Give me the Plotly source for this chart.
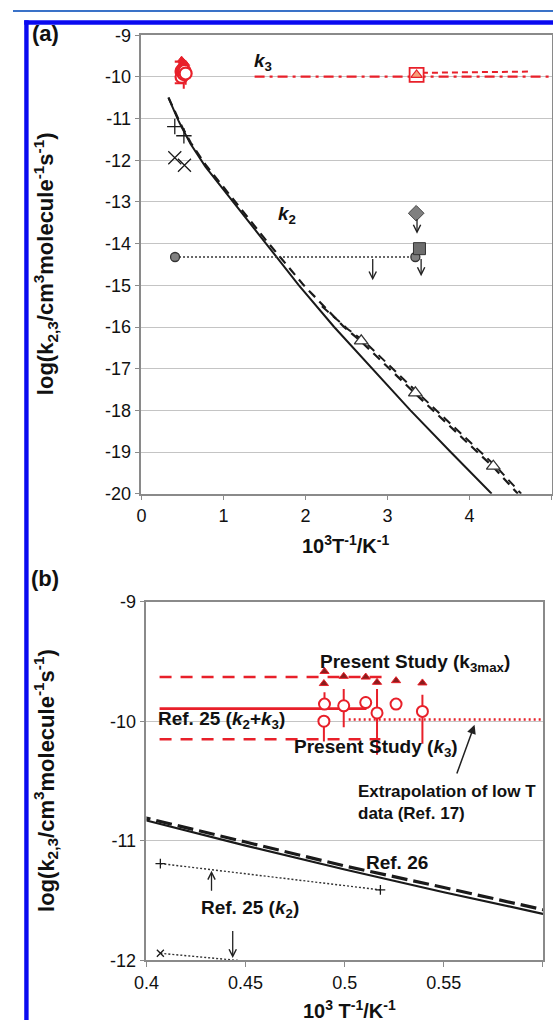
import plotly.graph_objects as go

W, H = 553, 1030
RED = "#e8202a"
BLACK = "#1a1a1a"
AXC = "#8a8a8a"
GRID = "#c4c4c4"
FONT = "Liberation Sans, Arial, sans-serif"

# ---------------- data ----------------
# k2 (Ref. 26) curves
k2_solid_x = [0.33, 0.4, 0.45, 0.5, 0.55, 0.6, 0.78, 1.14, 1.52, 1.92, 2.35, 2.82, 3.28, 3.77, 4.27]
k2_solid_y = [-10.5, -10.83, -11.04, -11.24, -11.43, -11.61, -12.15, -13.05, -14.0, -15.0, -16.0, -17.0, -18.0, -19.0, -20.0]
k2_dash_x = [0.33, 0.4, 0.45, 0.5, 0.55, 0.6, 0.78, 1.14, 1.52, 1.98, 2.47, 2.68, 3.34, 4.29, 4.41, 4.59]
k2_dash_y = [-10.49, -10.81, -11.01, -11.21, -11.39, -11.575, -12.1, -12.98, -13.92, -15.0, -16.0, -16.35, -17.6, -19.36, -19.61, -20.0]
k2_dash2_x = [2.2, 2.51, 2.72, 3.38, 4.33, 4.45, 4.63]
k2_dash2_y = [-15.5, -16.04, -16.35, -17.6, -19.36, -19.61, -20.0]
# low-T k2 measurements (open triangles)
k2_lowT_x = [2.68, 3.34, 4.29]
k2_lowT_y = [-16.33, -17.58, -19.34]
# Ref. 25 (k2)
ref25_plus_x = [0.407, 0.518]
ref25_plus_y = [-11.19, -11.41]
ref25_cross_x = [0.407, 0.525]
ref25_cross_y = [-11.94, -12.12]
# upper limits (grey symbols)
ul_circle_x = [0.41, 3.34]
ul_circle_y = [-14.32, -14.32]
ul_diamond_x = [3.35]
ul_diamond_y = [-13.27]
ul_square_x = [3.39]
ul_square_y = [-14.12]
# k3 low-T (panel a)
k3_lowT_x = [1.38, 5.0]
k3_lowT_y = [-9.99, -9.99]
k3_lowT2_x = [3.42, 4.75]
k3_lowT2_y = [-9.9, -9.87]
k3_sq_x = [3.355]
k3_sq_y = [-9.95]
# Present study k3 and k3max
ps_k3_x = [0.4898, 0.4895, 0.4995, 0.5106, 0.5163, 0.5259, 0.5392]
ps_k3_y = [-9.857, -10.0, -9.871, -9.844, -9.931, -9.857, -9.918]
ps_k3_up = [0.1, 0.0, 0.14, 0.05, 0.2, 0.05, 0.14]
ps_k3_dn = [0.0, 0.17, 0.18, 0.05, 0.35, 0.05, 0.27]
ps_k3max_x = [0.4898, 0.4895, 0.4995, 0.5106, 0.5163, 0.5259, 0.5392]
ps_k3max_y = [-9.584, -9.685, -9.625, -9.631, -9.675, -9.661, -9.68]
# Ref. 25 (k2+k3)
ref25_sum_x = [0.4066, 0.511]
ref25_sum_y = [-9.894, -9.894]
ref25_hi_x = [0.4066, 0.519]
ref25_hi_y = [-9.631, -9.631]
ref25_lo_x = [0.4066, 0.518]
ref25_lo_y = [-10.15, -10.15]
# Extrapolation of low T data (Ref. 17)
extrap_x = [0.502, 0.6]
extrap_y = [-9.986, -9.986]

# tick labels
ya_vals = [-9, -10, -11, -12, -13, -14, -15, -16, -17, -18, -19, -20]
ya_text = ["-9", "-10", "-11", "-12", "-13", "-14", "-15", "-16", "-17", "-18", "-19", "-20"]
xa_vals = [0, 1, 2, 3, 4, 5]
xa_text = ["0", "1", "2", "3", "4", "5"]
yb_vals = [-9, -10, -11, -12]
yb_text = ["-9", "-10", "-11", "-12"]
xb_vals = [0.4, 0.45, 0.5, 0.55, 0.6]
xb_text = ["0.4", "0.45", "0.5", "0.55", "0.6"]


def px(x):
    return min(1.0, max(0.0, x / W))


def py(y):
    return min(1.0, max(0.0, 1 - y / H))


fig = go.Figure()

# ================= panel (a) =================
A = dict(xaxis="x", yaxis="y", showlegend=False, hoverinfo="skip")
fig.add_trace(go.Scatter(x=k2_solid_x, y=k2_solid_y, mode="lines",
                         line=dict(color=BLACK, width=2), **A))
fig.add_trace(go.Scatter(x=k2_dash_x, y=k2_dash_y, mode="lines",
                         line=dict(color=BLACK, width=2.2, dash="9px,6px"), **A))
fig.add_trace(go.Scatter(x=k2_dash2_x, y=k2_dash2_y, mode="lines",
                         line=dict(color=BLACK, width=2, dash="9px,6px"), **A))
fig.add_trace(go.Scatter(x=k2_lowT_x, y=k2_lowT_y, mode="markers",
                         marker=dict(symbol="triangle-up", size=12, color="white",
                                     line=dict(color="#333", width=1.3)), **A))
fig.add_trace(go.Scatter(x=ref25_plus_x, y=ref25_plus_y, mode="markers",
                         marker=dict(symbol="cross-thin", size=11,
                                     line=dict(color=BLACK, width=1.3)), **A))
fig.add_trace(go.Scatter(x=ref25_cross_x, y=ref25_cross_y, mode="markers",
                         marker=dict(symbol="x-thin", size=13,
                                     line=dict(color=BLACK, width=1.3)), **A))
fig.add_trace(go.Scatter(x=ul_circle_x, y=ul_circle_y, mode="lines+markers",
                         line=dict(color="#333", width=1.5, dash="2px,2px"),
                         marker=dict(symbol="circle", size=9, color="#808080",
                                     line=dict(color="#333", width=1.3)), **A))
fig.add_trace(go.Scatter(x=ul_diamond_x, y=ul_diamond_y, mode="markers",
                         marker=dict(symbol="diamond", size=12, color="#808080",
                                     line=dict(color="#444", width=1)), **A))
fig.add_trace(go.Scatter(x=ul_square_x, y=ul_square_y, mode="markers",
                         marker=dict(symbol="square", size=12, color="#6e6e6e",
                                     line=dict(color="#333", width=1)), **A))
fig.add_trace(go.Scatter(x=k3_lowT_x, y=k3_lowT_y, mode="lines",
                         line=dict(color=RED, width=2.2, dash="10px,5px,3px,5px"), **A))
fig.add_trace(go.Scatter(x=k3_lowT2_x, y=k3_lowT2_y, mode="lines",
                         line=dict(color=RED, width=2, dash="6px,4px"), **A))
fig.add_trace(go.Scatter(x=k3_sq_x, y=k3_sq_y, mode="markers",
                         marker=dict(symbol="square", size=14, color="white",
                                     line=dict(color=RED, width=1.8)), **A))
fig.add_trace(go.Scatter(x=k3_sq_x, y=k3_sq_y, mode="markers",
                         marker=dict(symbol="triangle-up", size=10, color="#f6a17a",
                                     line=dict(color=RED, width=1.2)), **A))
for xs, ys in [(ref25_sum_x, ref25_sum_y), (ref25_hi_x, ref25_hi_y), (ref25_lo_x, ref25_lo_y)]:
    fig.add_trace(go.Scatter(x=xs, y=ys, mode="lines",
                             line=dict(color=RED, width=2.2), **A))
fig.add_trace(go.Scatter(x=ps_k3max_x, y=ps_k3max_y, mode="markers",
                         marker=dict(symbol="triangle-up", size=7, color=RED,
                                     line=dict(color=RED, width=1)), **A))
fig.add_trace(go.Scatter(x=ps_k3_x, y=ps_k3_y, mode="markers",
                         error_y=dict(type="data", symmetric=False, array=ps_k3_up,
                                      arrayminus=ps_k3_dn, color=RED, thickness=2, width=0),
                         marker=dict(symbol="circle", size=12, color="white",
                                     line=dict(color=RED, width=2.2)), **A))

# ================= panel (b) =================
B = dict(xaxis="x2", yaxis="y2", showlegend=False, hoverinfo="skip")
fig.add_trace(go.Scatter(x=ref25_hi_x, y=ref25_hi_y, mode="lines",
                         line=dict(color=RED, width=2.5, dash="12px,9px"), **B))
fig.add_trace(go.Scatter(x=ref25_lo_x, y=ref25_lo_y, mode="lines",
                         line=dict(color=RED, width=2.5, dash="12px,9px"), **B))
fig.add_trace(go.Scatter(x=ref25_sum_x, y=ref25_sum_y, mode="lines",
                         line=dict(color=RED, width=2.8), **B))
fig.add_trace(go.Scatter(x=extrap_x, y=extrap_y, mode="lines",
                         line=dict(color=RED, width=2.5, dash="2px,3px"), **B))
fig.add_trace(go.Scatter(x=k2_solid_x, y=k2_solid_y, mode="lines",
                         line=dict(color=BLACK, width=2.2), **B))
fig.add_trace(go.Scatter(x=k2_dash_x, y=k2_dash_y, mode="lines",
                         line=dict(color=BLACK, width=3.2, dash="16px,6px"), **B))
fig.add_trace(go.Scatter(x=ref25_plus_x, y=ref25_plus_y, mode="lines+markers",
                         line=dict(color="#333", width=1.4, dash="2px,2px"),
                         marker=dict(symbol="cross-thin", size=7,
                                     line=dict(color=BLACK, width=1.3)), **B))
fig.add_trace(go.Scatter(x=ref25_cross_x, y=ref25_cross_y, mode="lines+markers",
                         line=dict(color="#333", width=1.4, dash="2px,2px"),
                         marker=dict(symbol="x-thin", size=7,
                                     line=dict(color=BLACK, width=1.3)), **B))
fig.add_trace(go.Scatter(x=ps_k3_x, y=ps_k3_y, mode="markers",
                         error_y=dict(type="data", symmetric=False, array=ps_k3_up,
                                      arrayminus=ps_k3_dn, color=RED, thickness=2, width=0),
                         marker=dict(symbol="circle", size=11, color="white",
                                     line=dict(color=RED, width=2)), **B))
fig.add_trace(go.Scatter(x=ps_k3max_x, y=ps_k3max_y, mode="markers",
                         marker=dict(symbol="triangle-up", size=8, color="#8b1c1c",
                                     line=dict(color=RED, width=1)), **B))

# ================= axes =================
common = dict(showline=True, mirror=True, linecolor=AXC, linewidth=1.5, ticks="outside",
              ticklen=5, tickcolor=AXC, zeroline=False,
              tickfont=dict(family=FONT, size=18, color="#111"))
fig.update_layout(
    width=W, height=H, margin=dict(l=0, r=0, t=0, b=0),
    font=dict(family=FONT, size=18, color="#111"),
    paper_bgcolor="white", plot_bgcolor="white",
    xaxis=dict(domain=[px(131.5), px(551.5)], range=[0, 5], anchor="y",
               tickvals=xa_vals, ticktext=xa_text, showgrid=False, **common),
    yaxis=dict(domain=[py(493.3), py(25.8)], range=[-20, -9], anchor="x",
               tickvals=ya_vals, ticktext=ya_text, showgrid=True, gridcolor=GRID,
               gridwidth=1, **common),
    xaxis2=dict(domain=[px(136.7), px(542.7)], range=[0.4, 0.6], anchor="y2",
                tickvals=xb_vals, ticktext=xb_text, showgrid=False, **common),
    yaxis2=dict(domain=[py(969.3), py(603.3)], range=[-12, -9], anchor="x2",
                tickvals=yb_vals, ticktext=yb_text, showgrid=True, gridcolor=GRID,
                gridwidth=1, **common),
)

ann = []


def txt(text, x, y, xref, yref, size=16, xanchor="center", yanchor="middle", angle=0, align="center"):
    ann.append(dict(text=text, x=x, y=y, xref=xref, yref=yref, showarrow=False,
                    xanchor=xanchor, yanchor=yanchor, textangle=angle, align=align,
                    font=dict(family=FONT, size=size, color="#111")))


def arrow(x0, y0, x1, y1, xr, yr, head=5, size=1.1, width=1.3):
    ann.append(dict(text="", x=x1, y=y1, ax=x0, ay=y0, xref=xr, yref=yr, axref=xr, ayref=yr,
                    showarrow=True, arrowhead=head, arrowsize=size, arrowwidth=width,
                    arrowcolor="#222", standoff=0, startstandoff=0))


# panel labels and axis titles
txt("<b>(a)</b>", px(33), py(24), "paper", "paper", size=22)
txt("<b>(b)</b>", px(33), py(580), "paper", "paper", size=22)
ytitle = "<b>log(k<sub>2,3</sub>/cm<sup>3</sup>molecule<sup>-1</sup>s<sup>-1</sup>)</b>"
txt(ytitle, px(34), py(259), "paper", "paper", size=22, angle=-90)
txt(ytitle, px(34), py(786), "paper", "paper", size=22, angle=-90)
txt("<b>10<sup>3</sup>T<sup>-1</sup>/K<sup>-1</sup></b>", px(341), py(545), "paper", "paper", size=20)
txt("<b>10<sup>3</sup> T<sup>-1</sup>/K<sup>-1</sup></b>", px(345), py(1019), "paper", "paper", size=20)

# panel (a) labels
txt("<b><i>k</i><sub>3</sub></b>", 1.48, -9.64, "x", "y", size=19)
txt("<b><i>k</i><sub>2</sub></b>", 1.78, -13.32, "x", "y", size=19)
arrow(2.82, -14.33, 2.82, -14.88, "x", "y")
arrow(3.36, -13.38, 3.36, -13.76, "x", "y")
arrow(3.41, -14.33, 3.41, -14.78, "x", "y")

# panel (b) labels
txt("<b>Present Study (k<sub>3max</sub>)</b>", 0.4867, -9.51, "x2", "y2", size=19, xanchor="left")
txt("<b>Ref. 25 (<i>k</i><sub>2</sub>+<i>k</i><sub>3</sub>)</b>", 0.4049, -9.99, "x2", "y2", size=19, xanchor="left")
txt("<b>Present Study (<i>k</i><sub>3</sub>)</b>", 0.4734, -10.22, "x2", "y2", size=19, xanchor="left")
txt("<b>Extrapolation of low T<br>data (Ref. 17)</b>", 0.5059, -10.68, "x2", "y2", size=17,
    xanchor="left", align="left")
txt("<b>Ref. 26</b>", 0.5097, -11.18, "x2", "y2", size=19, xanchor="left")
txt("<b>Ref. 25 (<i>k</i><sub>2</sub>)</b>", 0.4263, -11.57, "x2", "y2", size=19, xanchor="left")
arrow(0.4328, -11.43, 0.4328, -11.25, "x2", "y2")
arrow(0.4435, -11.74, 0.4435, -11.98, "x2", "y2")
arrow(0.5563, -10.45, 0.5655, -10.03, "x2", "y2", head=2, size=1.2, width=1.5)

fig.update_layout(annotations=ann)

# blue frame
fig.update_layout(shapes=[
    dict(type="rect", xref="paper", yref="paper", x0=0, x1=1, y0=py(2), y1=py(0),
         fillcolor="#3a72c8", line=dict(width=0), layer="above"),
    dict(type="rect", xref="paper", yref="paper", x0=px(11.5), x1=1, y0=py(15), y1=py(10.5),
         fillcolor="#0a0af0", line=dict(width=0), layer="above"),
    dict(type="rect", xref="paper", yref="paper", x0=px(11.5), x1=px(16), y0=0, y1=py(10.5),
         fillcolor="#0a0af0", line=dict(width=0), layer="above"),
])

pin = ("document.documentElement.style.margin='0';document.body.style.margin='0';"
       "document.body.style.overflow='hidden';"
       "var d=document.getElementById('{plot_id}');"
       "if(d){d.style.position='fixed';d.style.left='0px';d.style.top='0px';}")
fig.write_html("out.html", config={"displayModeBar": False}, post_script=pin)
